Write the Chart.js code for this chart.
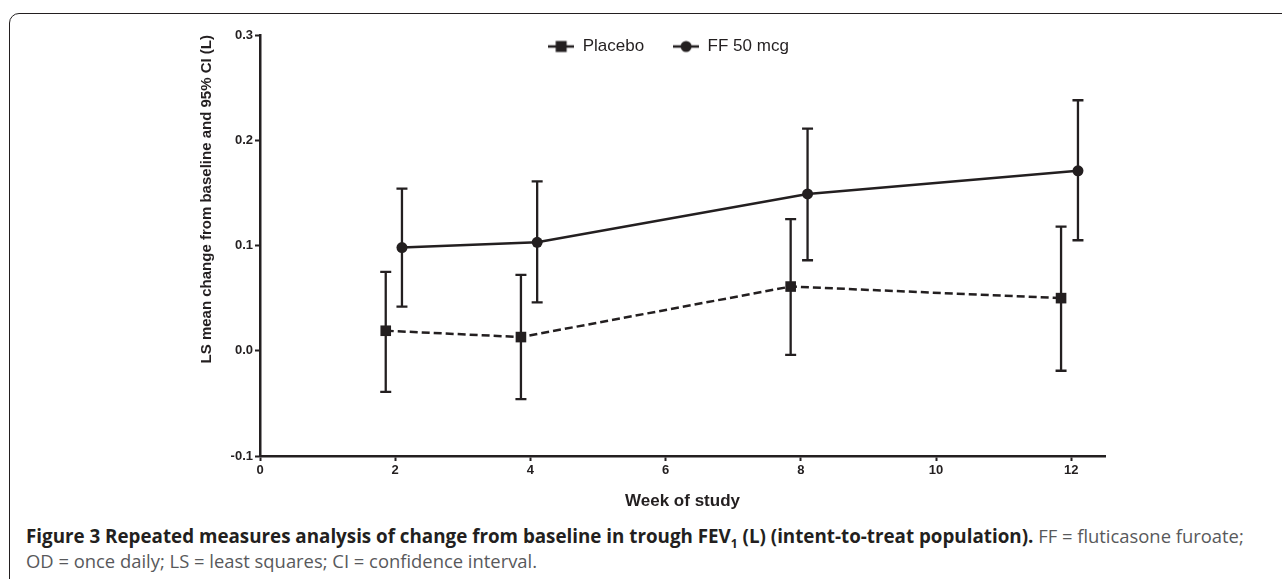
<!DOCTYPE html>
<html>
<head>
<meta charset="utf-8">
<script src="https://cdn.jsdelivr.net/npm/chart.js@4.4.1/dist/chart.umd.min.js"></script>
<style>
html, body { margin: 0; padding: 0; background: #fff; }
body { width: 1282px; height: 579px; position: relative; overflow: hidden; }
#frame { position: absolute; left: 9px; top: 13px; width: 1300px; height: 620px; border: 1.5px solid #231f20; border-radius: 10px; box-sizing: border-box; }
#wrap { position: absolute; left: 0; top: 0; width: 1282px; height: 520px; }
.cap { position: absolute; left: 26px; font-family: "Open Sans", "Noto Sans", sans-serif; font-size: 18.4px; line-height: 24px; color: #58595b; white-space: nowrap; }
.cap b { color: #231f20; font-size: 18.8px; }
.cap sub { font-size: 12px; line-height: 0; }
</style>
</head>
<body>
<div id="frame"></div>
<div id="wrap"><canvas id="chart"></canvas></div>
<div class="cap" style="top:524px"><b>Figure 3 Repeated measures analysis of change from baseline in trough FEV<sub>1</sub> (L) (intent-to-treat population).</b> FF = fluticasone furoate;</div>
<div class="cap" style="top:549px">OD = once daily; LS = least squares; CI = confidence interval.</div>
<script>
// weeks (placebo drawn a bit left of the nominal week, FF a bit right)
const placeboWeeks = [1.86, 3.86, 7.85, 11.85];
const ffWeeks = [2.1, 4.1, 8.1, 12.1];

const placeboMean = [0.019, 0.013, 0.061, 0.050];
const placeboLow = [-0.039, -0.046, -0.004, -0.019];
const placeboHigh = [0.075, 0.072, 0.125, 0.118];

const ffMean = [0.098, 0.103, 0.149, 0.171];
const ffLow = [0.042, 0.046, 0.086, 0.105];
const ffHigh = [0.154, 0.161, 0.211, 0.238];

const xTicks = [0, 2, 4, 6, 8, 10, 12];
const yTicks = [-0.1, 0, 0.1, 0.2, 0.3];

const ink = '#231f20';
const axisFont = 'Liberation Sans, Arial, sans-serif';

// legend icons: short line with the marker in the middle
function legendIcon(shape) {
    const c = document.createElement('canvas');
    c.width = 26; c.height = 14;
    const g = c.getContext('2d');
    g.strokeStyle = ink; g.fillStyle = ink; g.lineWidth = 2.5;
    g.beginPath(); g.moveTo(0, 7); g.lineTo(26, 7); g.stroke();
    if (shape === 'rect') {
        g.fillRect(7.5, 1.5, 11, 11);
    } else {
        g.beginPath(); g.arc(13, 7, 5.5, 0, Math.PI * 2); g.fill();
    }
    return c;
}
const icons = [legendIcon('rect'), legendIcon('circle')];

const errorBars = {
    id: 'errorBars',
    beforeDatasetsDraw(chart) {
        const {ctx, scales: {x, y}} = chart;
        const sets = [
            [placeboWeeks, placeboLow, placeboHigh],
            [ffWeeks, ffLow, ffHigh]
        ];
        ctx.save();
        ctx.strokeStyle = ink;
        ctx.lineWidth = 2.3;
        sets.forEach(([wk, lo, hi]) => {
            wk.forEach((w, i) => {
                const px = x.getPixelForValue(w);
                const y1 = y.getPixelForValue(lo[i]);
                const y2 = y.getPixelForValue(hi[i]);
                ctx.beginPath();
                ctx.moveTo(px, y1); ctx.lineTo(px, y2);
                ctx.moveTo(px - 5.5, y1); ctx.lineTo(px + 5.5, y1);
                ctx.moveTo(px - 5.5, y2); ctx.lineTo(px + 5.5, y2);
                ctx.stroke();
            });
        });
        ctx.restore();
    }
};

// the legend takes no layout space; put it inside the plot near the top
const legendNudge = {
    id: 'legendNudge',
    afterLayout(chart) {
        const lg = chart.legend;
        lg.top -= 25;
        lg.bottom = lg.top + 100;
        lg.height = 100;
        lg.left += 21; lg.right += 21;
    }
};

new Chart(document.getElementById('chart'), {
    type: 'line',
    data: {
        datasets: [{
            label: 'Placebo',
            data: placeboWeeks.map((w, i) => ({x: w, y: placeboMean[i]})),
            borderColor: ink,
            backgroundColor: ink,
            borderWidth: 2.5,
            borderDash: [8, 4],
            pointStyle: 'rect',
            pointRadius: 7.5,
            pointBorderWidth: 0,
            tension: 0
        }, {
            label: 'FF 50 mcg',
            data: ffWeeks.map((w, i) => ({x: w, y: ffMean[i]})),
            borderColor: ink,
            backgroundColor: ink,
            borderWidth: 2.5,
            pointStyle: 'circle',
            pointRadius: 5.5,
            pointBorderWidth: 0,
            tension: 0
        }]
    },
    options: {
        responsive: true,
        maintainAspectRatio: false,
        animation: false,
        devicePixelRatio: 1,
        layout: { padding: { left: 190, right: 177, top: 34, bottom: 4 } },
        plugins: {
            tooltip: { enabled: false },
            legend: {
                position: 'top',
                align: 'center',
                maxHeight: 1,
                labels: {
                    usePointStyle: true,
                    pointStyleWidth: 26,
                    padding: 29,
                    color: ink,
                    font: { family: axisFont, size: 17 },
                    generateLabels(chart) {
                        const items = Chart.defaults.plugins.legend.labels.generateLabels(chart);
                        items.forEach((it, i) => { it.pointStyle = icons[i]; });
                        return items;
                    }
                }
            }
        },
        scales: {
            x: {
                type: 'linear',
                min: 0,
                max: 12.5,
                afterBuildTicks: s => { s.ticks = xTicks.map(v => ({value: v})); },
                afterFit: s => { s.height = 60; },
                border: { color: ink, width: 2.5 },
                grid: { drawOnChartArea: false, tickLength: 5, tickWidth: 2, tickColor: ink },
                ticks: { color: ink, padding: 2, maxRotation: 0, font: { family: axisFont, size: 13, weight: 'bold' } },
                title: { display: true, text: 'Week of study', color: ink, padding: { top: 0, bottom: 4 }, font: { family: axisFont, size: 17, weight: 'bold' } }
            },
            y: {
                min: -0.1,
                max: 0.3,
                afterBuildTicks: s => { s.ticks = yTicks.map(v => ({value: v})); },
                afterFit: s => { s.width = 70; },
                border: { color: ink, width: 2.5 },
                grid: { drawOnChartArea: false, tickLength: 5, tickWidth: 2, tickColor: ink },
                ticks: { color: ink, padding: 2, callback: v => v.toFixed(1), font: { family: axisFont, size: 13, weight: 'bold' } },
                title: { display: true, text: 'LS mean change from baseline and 95% CI (L)', align: 'end', color: ink, padding: { top: 8, bottom: 0 }, font: { family: axisFont, size: 15, weight: 'bold' } }
            }
        }
    },
    plugins: [errorBars, legendNudge]
});
</script>
</body>
</html>
